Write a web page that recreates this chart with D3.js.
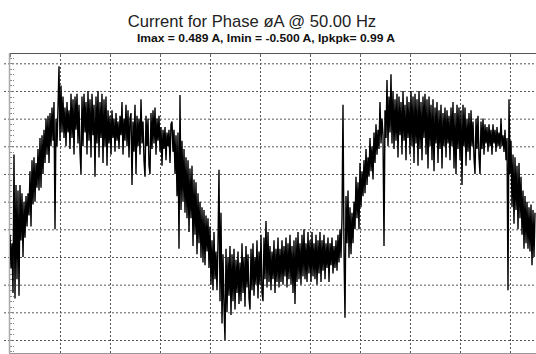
<!DOCTYPE html>
<html>
<head>
<meta charset="utf-8">
<script src="https://cdn.jsdelivr.net/npm/d3@7"></script>
<style>
  html, body { margin: 0; padding: 0; background: #fff; }
  svg { display: block; }
  .grid line { stroke: #555; stroke-dasharray: 2,2; }
  .grid path { display: none; }
</style>
</head>
<body>
<svg id="chart" width="536" height="354"></svg>
<script>
// current samples in mA, one per sample, split by part of the waveform
const riseA = [
  -120, -240, -150, -330, 170, -350, 60, -280, 40, -340,
  60, -140, 30, -200, 0, -130, 20, -90, 30, -50,
  110, -90, 150, -10, 160, 0, 140, 50, 190, 40,
  230, 50, 240, 100, 260, 140, 300, 170, 310, 140,
  320, 200, 340, 220, 360, -100, 300, 200, 340, 489
];
const peakA = [
  220, 420, 250, 380, 230, 340, 200, 360, 250, 330,
  190, 390, 230, 370, 170, 380, 260, 390, 210, 350,
  180, 100, 380, 200, 390, 250, 360, 170, 400, 220,
  370, 160, 390, 240, 350, 90, 380, 210, 400, 160,
  360, 230, 390, 140, 370, 200, 380, 130, 330, 210,
  310, 170, 330, 230, 300, 180, 320, 220, 290, 190,
  310, 240, 360, 170, 300, 220, 350, 200, 330, 160,
  300, 320, 60, 290, 180, 350, 100, 310, 200, 300,
  170, 370, 210, 290, 150, 90, 310, 200, 300, 130,
  100, 320, 190, 330, 210, 340, 170, 300, 220, 310,
  180, 270, 130, 260, 190, 270, 150, 250, 200, 260,
  140, 280, 290, 180, 260, 100, 240, 20, 250, -170
];
const fallA = [
  385, -30, 220, 0, 190, -40, 160, -60, 150, -110,
  120, -60, 130, -160, 80, -120, 70, -190, 30, -150,
  0, -200, -20, -220, -30, -230, -50, -180, -60, -240,
  -90, -300, -140, -320, -110, -280
];
const trough = [
  -180, -320, -150, 115, -360, -40, -440, -190, -380, -500,
  -170, -400, -200, -340, -160, -410, -190, -360, -170, -390,
  -210, -330, -180, -370, -220, -360, -150, -330, -200, -380,
  -160, -310, -190, -350, -390, -170, -320, -150, -340, -200,
  -300, -140, -350, -180, -300, -120, -330, -360, -130, -280,
  -70, -310, -110, -290, -160, -320, -180, -280, -140, -330,
  -170, -290, -130, -310, -170, -290, -140, -300, -160, -270,
  -130, -310, -150, -280, -120, -300, -160, -330, -140, -370,
  -130, -290, -110, -280, -150, -300, -120, -270, -100, -280,
  -150, -290, -110, -260, -140, -290, -110, -270, -150, -280,
  -120, -300, -140, -260, -110, -290, -140, -250, -120, -280,
  -150, -240, -130, -290, -150, -230, -130, -260, -160, -240,
  -140, -250, -120, -220, -100
];
const riseB = [
  -200, -60, 350, -180, -420, 20, -150, 40, -200, -20,
  -190, -40, -150, 0, -100, 90, -60, 70, -100, 140,
  -20, 110, 20, 150, 30, 190, 60, 160, 90, 230,
  110, 200, 80, 250, 140, 280, 170, 260, 190, 360,
  210, 300, 240, -160, 330
];
const peakB = [
  230, 440, 200, 380, 250, 460, 210, 400, 190, 370,
  220, 390, 160, 380, 240, 360, 170, 400, 220, 350,
  150, 380, 230, 360, 170, 400, 200, 380, 140, 390,
  210, 370, 130, 400, 190, 360, 150, 380, 230, 390,
  170, 370, 120, 380, 200, 350, 150, 370, 110, 340,
  210, 360, 140, 330, 190, 350, 120, 320, 200, 340,
  160, 330, 210, 310, 150, 340, 200, 360, 120, 320,
  100, 350, 190, 340, 150, 330, 60, 350, 200, 340,
  130, 300, 180, 320, 150, 330, 200, 290, 160, 100,
  300, 190, 310, 160, 100, 290, 190, 300, 170, 280,
  210, 270, 180, 280, 200, 260, 170, 280, 210, 260,
  180, 270, 200, 250, 190, 300, 200, 240, 180, 260
];
const fallB = [
  150, 230, -320, 370, 100, 220, -20, 170, -80, 160,
  -30, 130, -100, 140, -60, 90, -120, 40, -170, 20,
  -150, 0, -170, -20, -180, -10, -230, -30, -200, -40
];

const samples = [].concat(riseA, peakA, fallA, trough, riseB, peakB, fallB);
const gridAmps = [-0.5, -0.4, -0.3, -0.2, -0.1, 0, 0.1, 0.2, 0.3, 0.4, 0.5];
const title = 'Current for Phase øA @ 50.00 Hz';
const subtitle = 'Imax = 0.489 A, Imin = -0.500 A, Ipkpk= 0.99 A';

const svg = d3.select('#chart');
const box = {left: 10, right: 536, top: 53, bottom: 353};

const x = d3.scaleLinear().domain([0, samples.length - 1]).range([box.left, box.left + samples.length - 1]);
const y = d3.scaleLinear().domain([-0.5, 0.5]).range([340, 63.3]);

svg.append('text')
  .attr('x', 252).attr('y', 27)
  .attr('text-anchor', 'middle')
  .style('font', '16.6px "Liberation Sans", Arial, sans-serif')
  .attr('fill', '#222')
  .text(title);

svg.append('text')
  .attr('x', 266).attr('y', 42)
  .attr('text-anchor', 'middle')
  .attr('textLength', 258)
  .attr('lengthAdjust', 'spacingAndGlyphs')
  .style('font', 'bold 11.5px "Liberation Sans", Arial, sans-serif')
  .attr('fill', '#111')
  .text(subtitle);

// horizontal grid
svg.append('g')
  .attr('class', 'grid')
  .attr('transform', 'translate(' + box.left + ',0)')
  .call(d3.axisLeft(y).tickValues(gridAmps).tickSize(-(box.right - box.left)).tickSizeOuter(0).tickFormat(''))
  .call(g => g.selectAll('line').attr('x1', -6));

// vertical grid
svg.append('g')
  .attr('class', 'grid')
  .attr('transform', 'translate(0,' + box.bottom + ')')
  .call(d3.axisBottom(x).tickValues(d3.range(50, samples.length, 50)).tickSize(-(box.bottom - box.top)).tickSizeOuter(0).tickFormat(''));

// minor ticks on left axis
const minor = d3.range(-27, 27).map(i => i / 50).filter(v => y(v) > box.top && y(v) < box.bottom);
svg.append('g')
  .selectAll('line')
  .data(minor)
  .enter().append('line')
  .attr('x1', box.left).attr('x2', box.left + 4)
  .attr('y1', d => Math.round(y(d)) + 0.5).attr('y2', d => Math.round(y(d)) + 0.5)
  .attr('stroke', '#888')
  .attr('stroke-dasharray', '2,1');

// top ticks
svg.append('g')
  .selectAll('line')
  .data(d3.range(0, samples.length, 50))
  .enter().append('line')
  .attr('x1', d => x(d) + 0.5).attr('x2', d => x(d) + 0.5)
  .attr('y1', box.top).attr('y2', box.top + 4)
  .attr('stroke', '#666');

// frame
svg.append('line').attr('x1', box.left - 1).attr('x2', box.right).attr('y1', box.top + 0.5).attr('y2', box.top + 0.5).attr('stroke', '#555');
svg.append('line').attr('x1', box.left - 0.5).attr('x2', box.left - 0.5).attr('y1', box.top).attr('y2', box.bottom).attr('stroke', '#aaa').attr('stroke-width', 1.5);
svg.append('line').attr('x1', box.left - 1).attr('x2', box.right).attr('y1', box.bottom + 0.5).attr('y2', box.bottom + 0.5).attr('stroke', '#999');

svg.append('clipPath').attr('id', 'plot')
  .append('rect').attr('x', box.left).attr('y', box.top).attr('width', box.right - box.left).attr('height', box.bottom - box.top);

const line = d3.line()
  .x((d, i) => x(i))
  .y(d => y(d / 1000));

svg.append('path')
  .datum(samples)
  .attr('clip-path', 'url(#plot)')
  .attr('fill', 'none')
  .attr('stroke', '#000')
  .attr('stroke-width', 1.4)
  .attr('stroke-linejoin', 'miter')
  .attr('d', line);
</script>
</body>
</html>
